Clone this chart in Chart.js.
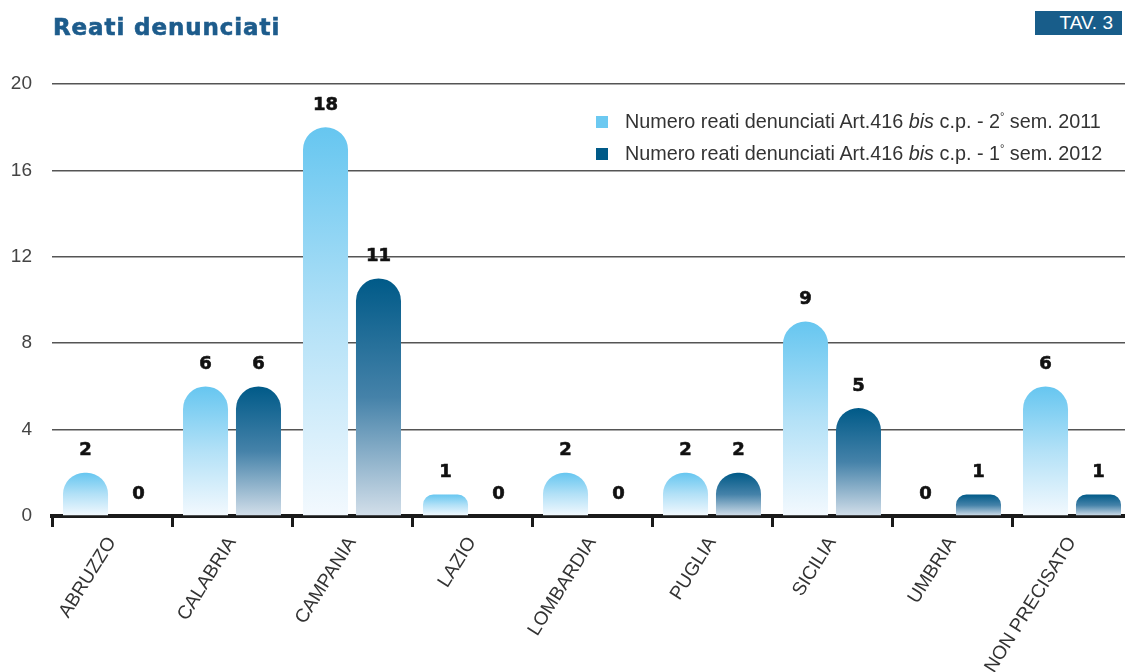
<!DOCTYPE html>
<html>
<head>
<meta charset="utf-8">
<script src="https://cdn.jsdelivr.net/npm/chart.js@4"></script>
<style>
  html, body { margin: 0; padding: 0; width: 1125px; height: 672px; overflow: hidden; background: #fff; }
  #wrap { position: relative; width: 1125px; height: 672px; overflow: hidden; }
  canvas { position: absolute; left: 0; top: 0; }
  .title { position: absolute; left: 53px; top: 14px; font-family: "DejaVu Sans", sans-serif; font-weight: bold; font-size: 23px; color: #1d5c8c; letter-spacing: 0.9px; -webkit-text-stroke: 0.6px #1d5c8c; }
  .badge { position: absolute; left: 1035px; top: 11px; width: 87px; height: 24px; background: #185d8a; color: #fff; font-family: "Liberation Sans", Arial, sans-serif; font-size: 19px; line-height: 24px; text-align: right; box-sizing: border-box; padding-right: 9px; }
  .legend { position: absolute; left: 596px; font-family: "Liberation Sans", Arial, sans-serif; font-size: 19.8px; color: #333; line-height: 22px; white-space: nowrap; }
  .legend .sw { display: inline-block; width: 12px; height: 12px; vertical-align: 0px; margin-right: 17px; }
  .legend sup { font-size: 11px; vertical-align: 8px; line-height: 0; }
</style>
</head>
<body>
<div id="wrap">
  <canvas id="c" width="1132" height="672"></canvas>
  <div class="title">Reati denunciati</div>
  <div class="badge">TAV. 3</div>
  <div class="legend" style="top:110px"><span class="sw" style="background:#6cc9f1"></span>Numero reati denunciati Art.416 <i>bis</i> c.p. - 2<sup>°</sup> sem. 2011</div>
  <div class="legend" style="top:142px"><span class="sw" style="background:#005a88"></span>Numero reati denunciati Art.416 <i>bis</i> c.p. - 1<sup>°</sup> sem. 2012</div>
</div>
<script>
const categories = ["ABRUZZO", "CALABRIA", "CAMPANIA", "LAZIO", "LOMBARDIA", "PUGLIA", "SICILIA", "UMBRIA", "NON PRECISATO"];
const sem2_2011 = [2, 6, 18, 1, 2, 2, 9, 0, 6];
const sem1_2012 = [0, 6, 11, 0, 0, 2, 5, 1, 1];
const seriesLabels = [
  "Numero reati denunciati Art.416 bis c.p. - 2° sem. 2011",
  "Numero reati denunciati Art.416 bis c.p. - 1° sem. 2012"
];
const yTicks = [0, 4, 8, 12, 16, 20];

function gradientFor(stops) {
  return function (ctx) {
    const chart = ctx.chart;
    if (!chart.chartArea || ctx.type !== 'data') return stops[0][1];
    const ys = chart.scales.y;
    const top = ys.getPixelForValue(ctx.raw);
    const base = ys.getPixelForValue(0);
    if (!(base - top > 0)) return stops[0][1];
    const g = chart.ctx.createLinearGradient(0, top, 0, base);
    stops.forEach(s => g.addColorStop(s[0], s[1]));
    return g;
  };
}

const valueLabels = {
  id: 'valueLabels',
  afterDatasetsDraw(chart) {
    const ctx = chart.ctx;
    ctx.save();
    ctx.font = 'bold 18px "DejaVu Sans", sans-serif';
    ctx.fillStyle = '#111';
    ctx.strokeStyle = '#111';
    ctx.lineWidth = 0.6;
    ctx.textAlign = 'center';
    ctx.textBaseline = 'middle';
    chart.data.datasets.forEach((ds, di) => {
      const meta = chart.getDatasetMeta(di);
      meta.data.forEach((el, i) => {
        const t = String(ds.data[i]);
        ctx.fillText(t, el.x, el.y - 22);
        ctx.strokeText(t, el.x, el.y - 22);
      });
    });
    ctx.restore();
  }
};

new Chart(document.getElementById('c'), {
  type: 'bar',
  data: {
    labels: categories,
    datasets: [
      {
        label: seriesLabels[0],
        data: sem2_2011,
        backgroundColor: gradientFor([[0, '#66c6f0'], [0.5, '#b3e1f7'], [1, '#f3f9fe']]),
        borderRadius: { topLeft: 23, topRight: 23, bottomLeft: 0, bottomRight: 0 },
        borderSkipped: 'bottom',
        barPercentage: 0.85,
        categoryPercentage: 0.883
      },
      {
        label: seriesLabels[1],
        data: sem1_2012,
        backgroundColor: gradientFor([[0, '#005a88'], [0.5, '#4582a9'], [1, '#d3dfea']]),
        borderRadius: { topLeft: 23, topRight: 23, bottomLeft: 0, bottomRight: 0 },
        borderSkipped: 'bottom',
        barPercentage: 0.85,
        categoryPercentage: 0.883
      }
    ]
  },
  options: {
    responsive: false,
    animation: false,
    devicePixelRatio: 1,
    layout: { padding: { top: 84, right: 0, left: 0, bottom: 0 } },
    plugins: {
      legend: { display: false },
      tooltip: { enabled: false },
      title: { display: false }
    },
    scales: {
      x: {
        afterFit(scale) { scale.height = 156; },
        grid: {
          display: true,
          offset: true,
          drawOnChartArea: false,
          drawTicks: true,
          tickLength: 11,
          lineWidth: 3,
          color: '#1a1a1a'
        },
        border: { display: true, width: 4, color: '#1a1a1a' },
        ticks: {
          autoSkip: false,
          minRotation: 58,
          maxRotation: 58,
          padding: 6,
          color: '#333',
          font: { family: '"Liberation Sans", Arial, sans-serif', size: 19 }
        }
      },
      y: {
        min: 0,
        max: 20,
        afterFit(scale) { scale.width = 52; },
        afterBuildTicks(scale) { scale.ticks = yTicks.map(v => ({ value: v })); },
        grid: { drawTicks: false, color: '#555', lineWidth: 1.5 },
        border: { display: false },
        ticks: {
          padding: 20,
          color: '#444',
          font: { family: '"Liberation Sans", Arial, sans-serif', size: 19 }
        }
      }
    }
  },
  plugins: [valueLabels]
});
</script>
</body>
</html>
